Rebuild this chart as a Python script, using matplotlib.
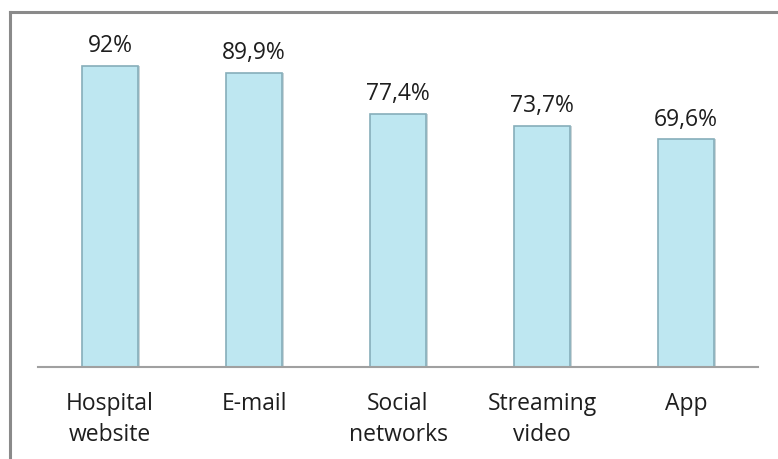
import matplotlib
matplotlib.use("Agg")
import matplotlib.pyplot as plt
from matplotlib.lines import Line2D

categories = ["Hospital\nwebsite", "E-mail", "Social\nnetworks", "Streaming\nvideo", "App"]
values = [92.0, 89.9, 77.4, 73.7, 69.6]
labels = ["92%", "89,9%", "77,4%", "73,7%", "69,6%"]

plt.rcParams['font.family'] = ['Open Sans', 'DejaVu Sans']

W, H = 778, 459
fig = plt.figure(figsize=(W / 100, H / 100), dpi=100)
fig.patch.set_facecolor("white")

ax = fig.add_axes([38 / W, (H - 367) / H, 720 / W, (367 - 40) / H])
x = list(range(len(categories)))
# soft shadow
ax.bar([xi + 0.012 for xi in x], values, width=0.39, color="#9FB3B8", alpha=0.55,
       linewidth=0, zorder=1)
ax.bar(x, values, width=0.39, color="#BEE7F1", edgecolor="#86AEBA", linewidth=1.2, zorder=2)
for xi, v, lab in zip(x, values, labels):
    ax.text(xi, v + 2.4, lab, ha="center", va="bottom", fontsize=16.5, color="#1E1E1E")

ax.set_xlim(-0.5, len(categories) - 0.5)
ax.set_ylim(0, 100)
ax.set_xticks(x)
ax.set_xticklabels(categories, fontsize=16.5, color="#1E1E1E", linespacing=1.4)
ax.tick_params(axis="x", length=0, pad=18)
ax.set_yticks([])
for s in ["top", "right", "left"]:
    ax.spines[s].set_visible(False)
ax.spines["bottom"].set_color("#A0A0A0")
ax.spines["bottom"].set_linewidth(1.5)

# outer frame (left and top visible)
fig.add_artist(Line2D([10 / W, 10 / W], [0, (H - 12) / H], color="#8A8A8A", linewidth=2.2))
fig.add_artist(Line2D([10 / W, 1], [(H - 12) / H, (H - 12) / H], color="#8A8A8A", linewidth=2.2))

fig.savefig("out.png", dpi=100, facecolor="white")
